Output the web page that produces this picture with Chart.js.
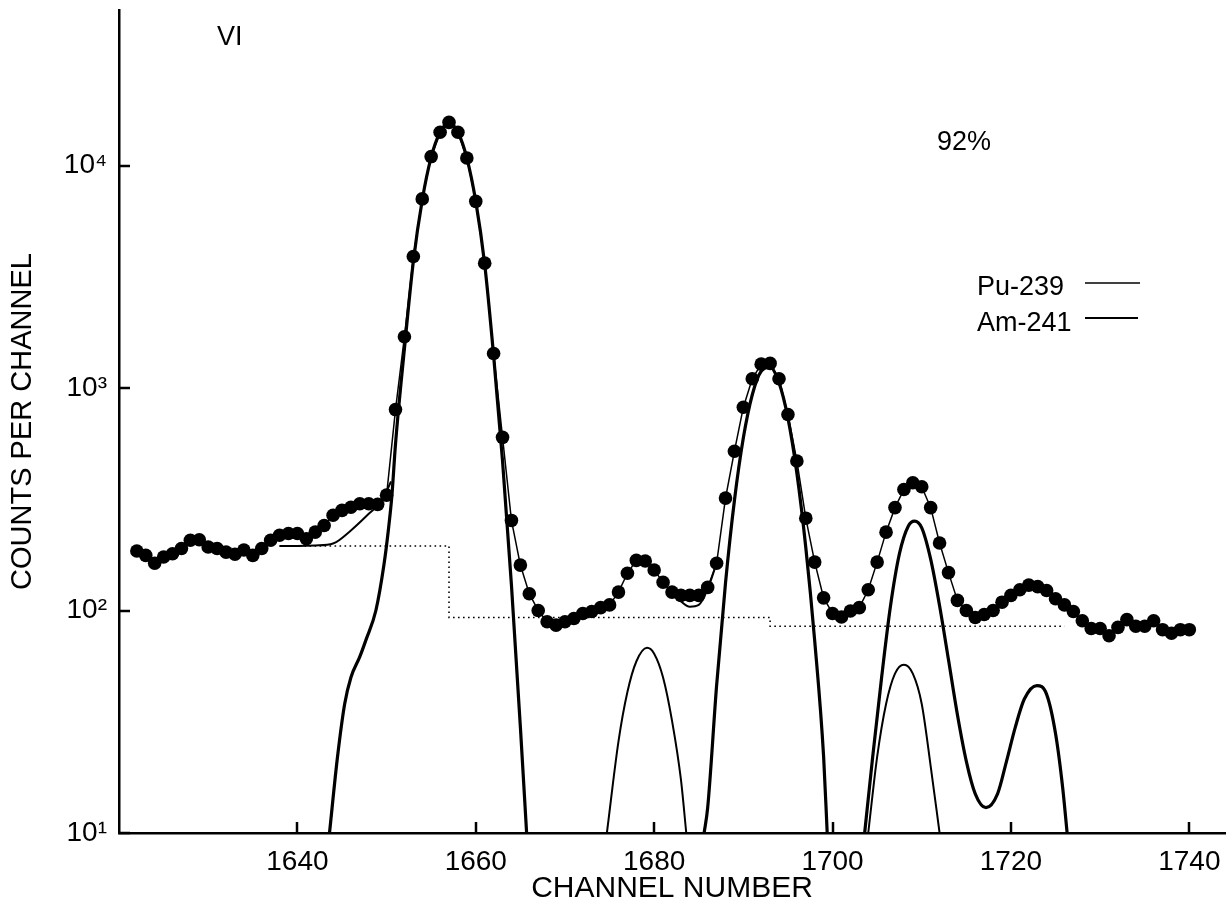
<!DOCTYPE html>
<html>
<head>
<meta charset="utf-8">
<title>Alpha spectrum VI</title>
<script src="https://cdn.jsdelivr.net/npm/chart.js@4/dist/chart.umd.min.js"></script>
<style>
  html, body { margin: 0; padding: 0; background: #ffffff; }
  #wrap { width: 1232px; height: 909px; }
</style>
</head>
<body>
<div id="wrap"><canvas id="spectrum" width="1232" height="909"></canvas></div>
<script>
// Measured spectrum: counts per channel, channels 1622 .. 1740
const channels = [
  1622,1623,1624,1625,1626,1627,1628,1629,1630,1631,
  1632,1633,1634,1635,1636,1637,1638,1639,1640,1641,
  1642,1643,1644,1645,1646,1647,1648,1649,1650,1651,
  1652,1653,1654,1655,1656,1657,1658,1659,1660,1661,
  1662,1663,1664,1665,1666,1667,1668,1669,1670,1671,
  1672,1673,1674,1675,1676,1677,1678,1679,1680,1681,
  1682,1683,1684,1685,1686,1687,1688,1689,1690,1691,
  1692,1693,1694,1695,1696,1697,1698,1699,1700,1701,
  1702,1703,1704,1705,1706,1707,1708,1709,1710,1711,
  1712,1713,1714,1715,1716,1717,1718,1719,1720,1721,
  1722,1723,1724,1725,1726,1727,1728,1729,1730,1731,
  1732,1733,1734,1735,1736,1737,1738,1739,1740
];
const counts = [
  185,177,163,174,180,190,207,208,193,190,
  183,179,187,177,190,207,218,222,222,210,
  225,241,268,282,291,302,302,300,330,800,
  1700,3900,7080,10970,14100,15630,14100,10810,6900,3640,
  1430,600,254,160,119,100,89,86,89,92,
  97,99,103,106,121,147,168,167,152,134,
  121,117,117,117,127,163,320,520,820,1100,
  1280,1290,1100,760,470,260,165,114,97,93.5,
  99.5,103,124,165,225,290,350,375,360,290,
  201,148,111,100,93,96,100,109,117,124,
  130,128,123,113,106,99,90,83,83,77,
  84,91,85,85,90,82,79,82,82
];

// Fitted total where it leaves the measured points
const fitLowCh  = [1638, 1640, 1642, 1644, 1646, 1648, 1649.5, 1650.5];
const fitLowVal = [195, 195, 196, 200, 229, 272, 313, 380];
const fitDipCh  = [1682, 1683, 1684, 1685, 1686, 1687];
const fitDipVal = [121, 110, 104, 106, 125, 163];

// Pu-239 components
const puMainCh  = [1643.6,1644.5,1645.3,1646,1647,1647.7,1648.8,1649.7,1650.2,1650.6,1651,1652,1653,1654,1655,1656,1657,1658,1659,1660,1661,1662,1663,1664,1665,1665.7];
const puMainVal = [10,22,38,50,62,74,100,160,230,330,560,1500,3700,7000,10900,14100,15600,14100,10800,6900,3600,1400,470,130,30,10];
const puSmallCh  = [1674.7,1676,1677,1678,1679.2,1680,1681,1682,1683,1683.6];
const puSmallVal = [10,25.8,43,59,68,64,50,32,17.4,10];

// Am-241 components
const amMainCh  = [1685.6,1686,1687,1688,1689,1690,1691,1692,1693,1694,1695,1696,1697,1698,1699,1699.4];
const amMainVal = [10,13,46,133,312,597,933,1190,1240,1055,731,414,192,73,22,10];
const amPairCh  = [1703.6,1704.5,1705.5,1706.5,1707.5,1708.5,1709.2,1710,1711,1712,1713,1714,1715,1716,1717.2,1718.5,1719.5,1720.5,1721.5,1722.9,1724,1725,1725.8,1726.3];
const amPairVal = [10,22,50,105,180,240,252,235,170,105,60,34,21,15,13,15,21,30,40,46,42,28,16,10];
const amSmallCh  = [1704,1705,1706,1707,1708,1709,1710,1711,1712];
const amSmallVal = [10,22,38,52,57,52,38,20,10];

// Background steps (dotted)
const bgCh  = [1638, 1657, 1657, 1693, 1693, 1726];
const bgVal = [195, 195, 93, 93, 85, 85];

// Axis ticks
const xTickValues = [1640, 1660, 1680, 1700, 1720, 1740];
const yTickValues = [10, 100, 1000, 10000];
const yTickLabels = ['10\u00B9', '10\u00B2', '10\u00B3', '10\u2074'];

const FONT = "'Liberation Sans', 'DejaVu Sans', sans-serif";
const pts = (xs, ys) => xs.map((x, i) => ({ x: x, y: ys[i] }));

function curve(xs, ys, width) {
  return {
    data: pts(xs, ys), showLine: true, pointRadius: 0, borderColor: '#000',
    borderWidth: width, cubicInterpolationMode: 'monotone', fill: false
  };
}

// Inward tick marks and the panel annotations
const decorations = {
  id: 'decorations',
  afterDraw(chart) {
    const ctx = chart.ctx;
    const xs = chart.scales.x, ys = chart.scales.y;
    const area = chart.chartArea;
    ctx.save();
    ctx.strokeStyle = '#000';
    ctx.lineWidth = 2.5;
    ctx.beginPath();
    xTickValues.forEach(v => {
      const px = Math.round(xs.getPixelForValue(v));
      ctx.moveTo(px, area.bottom);
      ctx.lineTo(px, area.bottom - 11);
    });
    yTickValues.forEach(v => {
      const py = Math.round(ys.getPixelForValue(v));
      ctx.moveTo(area.left, py);
      ctx.lineTo(area.left + 11, py);
    });
    ctx.stroke();

    ctx.fillStyle = '#000';
    ctx.textBaseline = 'middle';
    ctx.textAlign = 'left';
    ctx.font = '27px ' + FONT;
    ctx.fillText('VI', 217, 38);
    ctx.fillText('92%', 937, 143);
    ctx.fillText('Pu-239', 977, 288);
    ctx.fillText('Am-241', 977, 324);

    ctx.lineWidth = 1.5;
    ctx.beginPath();
    ctx.moveTo(1085, 283); ctx.lineTo(1140, 283);
    ctx.stroke();
    ctx.lineWidth = 2.2;
    ctx.beginPath();
    ctx.moveTo(1085, 318); ctx.lineTo(1138, 318);
    ctx.stroke();
    ctx.restore();
  }
};

new Chart(document.getElementById('spectrum'), {
  type: 'scatter',
  data: {
    datasets: [
      {
        data: pts(channels, counts), showLine: true, borderColor: '#000', borderWidth: 1.5,
        pointRadius: 6.8, pointBackgroundColor: '#000', pointBorderWidth: 0, tension: 0
      },
      curve(fitLowCh, fitLowVal, 2),
      curve(fitDipCh, fitDipVal, 2),
      curve(puMainCh, puMainVal, 3.2),
      curve(puSmallCh, puSmallVal, 2),
      curve(amMainCh, amMainVal, 3.2),
      curve(amPairCh, amPairVal, 3.2),
      curve(amSmallCh, amSmallVal, 2),
      {
        data: pts(bgCh, bgVal), showLine: true, pointRadius: 0, borderColor: '#000',
        borderWidth: 1.6, borderDash: [1.6, 3.4], tension: 0, fill: false
      }
    ]
  },
  options: {
    responsive: false,
    animation: false,
    devicePixelRatio: 1,
    layout: { padding: { top: 10, right: 7, left: 0, bottom: 0 } },
    plugins: { legend: { display: false }, tooltip: { enabled: false } },
    scales: {
      x: {
        type: 'linear', min: 1620, max: 1744,
        afterBuildTicks: s => { s.ticks = xTickValues.map(v => ({ value: v })); },
        afterFit: s => { s.height = 76; s.paddingLeft = 0; s.paddingRight = 0; },
        grid: { display: false, drawTicks: false },
        border: { display: true, color: '#000', width: 2.5 },
        ticks: {
          color: '#000', font: { family: FONT, size: 28 }, padding: 12,
          maxRotation: 0, autoSkip: false, callback: v => String(v)
        },
        title: {
          display: true, text: 'CHANNEL NUMBER', color: '#000',
          font: { family: FONT, size: 30 }, padding: { top: 0, bottom: 2 }
        }
      },
      y: {
        type: 'logarithmic', min: 10, max: 50000,
        afterBuildTicks: s => { s.ticks = yTickValues.map(v => ({ value: v })); },
        afterFit: s => { s.width = 119; s.paddingTop = 0; s.paddingBottom = 0; },
        grid: { display: false, drawTicks: false },
        border: { display: true, color: '#000', width: 2.5 },
        ticks: {
          color: '#000', font: { family: FONT, size: 28 }, padding: 12,
          autoSkip: false, callback: v => { const i = yTickValues.indexOf(v); return i >= 0 ? yTickLabels[i] : ''; }
        },
        title: {
          display: true, text: 'COUNTS PER CHANNEL', color: '#000',
          font: { family: FONT, size: 29 }, padding: { top: 6, bottom: 0 }
        }
      }
    }
  },
  plugins: [decorations]
});
</script>
</body>
</html>
